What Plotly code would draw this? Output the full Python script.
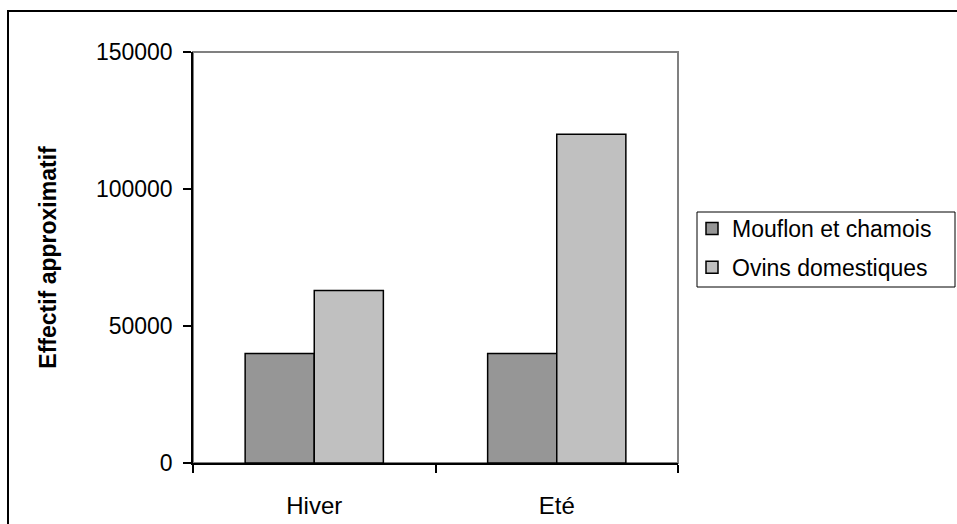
import plotly.graph_objects as go

categories = ["Hiver", "Eté"]
mouflon = [40000, 40000]
ovins = [63000, 120000]
series_names = ["Mouflon et chamois", "Ovins domestiques"]
y_ticks = [0, 50000, 100000, 150000]
y_title = "Effectif approximatif"

FONT = "Arial, Liberation Sans, sans-serif"

W, H = 957, 524
L, R, T, B = 193, 678, 52, 463
pw, ph = R - L, B - T

def px_x(x):
    return (x - L) / pw

def px_y(y):
    return (B - y) / ph

fig = go.Figure()
fig.add_trace(go.Bar(x=categories, y=mouflon, name=series_names[0],
                     marker=dict(color="#969696", line=dict(color="black", width=1.5)),
                     legendgroup="a"))
fig.add_trace(go.Bar(x=categories, y=ovins, name=series_names[1],
                     marker=dict(color="#c0c0c0", line=dict(color="black", width=1.5)),
                     legendgroup="b"))

fig.update_layout(
    width=W, height=H,
    margin=dict(l=L, r=W - R, t=T, b=H - B, pad=0, autoexpand=False),
    paper_bgcolor="white", plot_bgcolor="white",
    barmode="group", bargap=0.43, bargroupgap=0,
    font=dict(family=FONT, size=23, color="black"),
    showlegend=True,
    legend=dict(x=px_x(692), y=px_y(207), xanchor="left", yanchor="top",
                borderwidth=0, bgcolor="rgba(0,0,0,0)",
                font=dict(size=23), traceorder="grouped", tracegroupgap=6,
                itemwidth=30),
    shapes=[
        dict(type="rect", xref="paper", yref="paper",
             x0=px_x(8), x1=px_x(962), y0=px_y(11), y1=px_y(530),
             line=dict(color="black", width=2), layer="below"),
        dict(type="rect", xref="paper", yref="paper",
             x0=0, x1=1, y0=0, y1=1,
             line=dict(color="#808080", width=2), layer="below"),
        dict(type="rect", xref="paper", yref="paper",
             x0=px_x(697), x1=px_x(955), y0=px_y(212), y1=px_y(287),
             line=dict(color="black", width=1), layer="below"),
    ],
)

fig.update_yaxes(range=[0, 150000], tickvals=y_ticks, ticktext=[str(v) for v in y_ticks],
                 showgrid=False, zeroline=False, showline=True, linecolor="black", linewidth=1.5,
                 ticks="outside", ticklen=8, tickcolor="black", tickwidth=1.5,
                 tickfont=dict(size=23), automargin=False,
                 ticklabelstandoff=6,
                 title=dict(text="<b>" + y_title + "</b>", standoff=33, font=dict(size=23)))
fig.update_xaxes(showgrid=False, showline=True, linecolor="black", linewidth=1.5,
                 ticks="outside", ticklen=8, tickcolor="black", tickwidth=1.5,
                 tickfont=dict(size=24), automargin=False,
                 tickson="boundaries", ticklabelstandoff=20)

fig.write_html("out.html")
